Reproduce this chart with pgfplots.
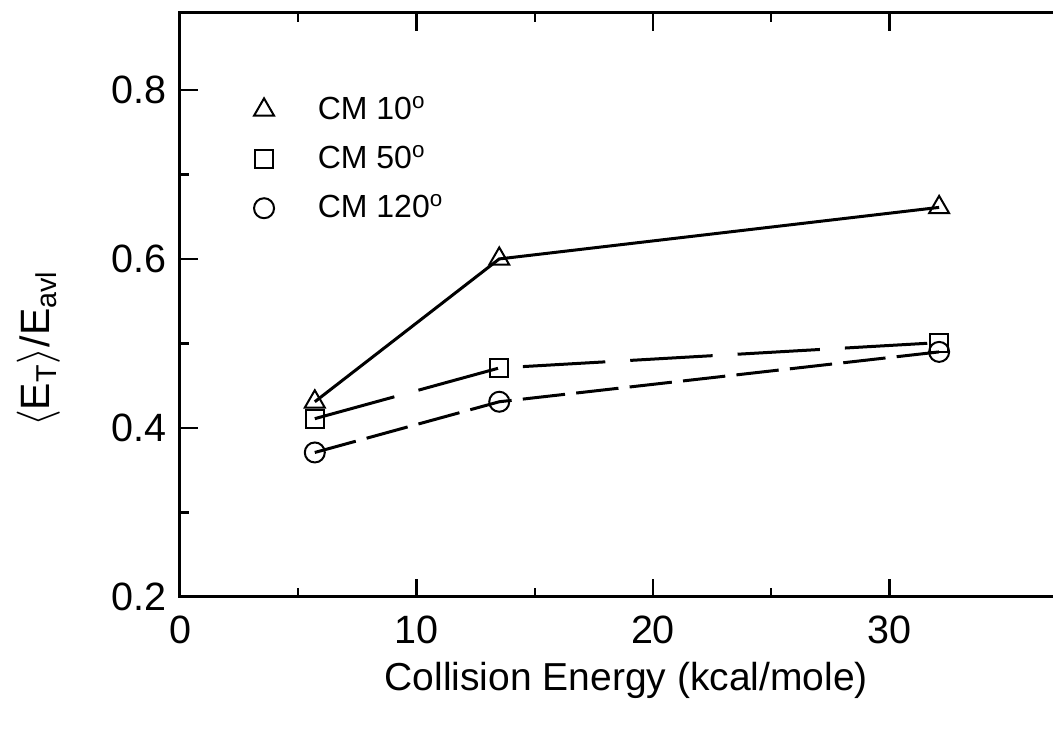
\documentclass[border=0pt]{standalone}
\usepackage{pgfplots}
\pgfplotsset{compat=1.18}
\usepackage{fontspec}
\setmainfont{Liberation Sans}

\begin{document}
\begin{tikzpicture}
\begin{axis}[
    scale only axis,
    width=357pt, height=233.6pt,
    xmin=0, xmax=37.74, ymin=0.2, ymax=0.891,
    xtick={0,10,20,30}, ytick={0.2,0.4,0.6,0.8},
    minor x tick num=1, minor y tick num=1,
    tick align=inside,
    major tick length=7.2pt, minor tick length=3.6pt,
    every tick/.style={black, line width=0.9pt},
    axis line style={line width=1.2pt},
    /pgf/number format/assume math mode=true,
    yticklabel style={/pgf/number format/fixed, /pgf/number format/precision=1,
        /pgf/number format/fixed zerofill, font=\fontsize{15.8}{18}\selectfont, xshift=-2pt},
    xticklabel style={font=\fontsize{15.8}{18}\selectfont, yshift=-4pt},
    xlabel={Collision Energy (kcal/mole)},
    ylabel={$\langle$E\textsubscript{T}$\rangle$/E\textsubscript{avl}},
    xlabel style={font=\fontsize{15.6}{18}\selectfont, at={(axis description cs:0.500,-0.142)}, anchor=center},
    ylabel style={font=\fontsize{16.4}{19}\selectfont, at={(axis description cs:-0.158,0.425)}, anchor=center},
    legend style={draw=none, fill=none, at={(axis description cs:0.074,0.875)}, anchor=north west,
        font=\fontsize{12.8}{15}\selectfont, row sep=5pt},
    legend cell align=left,
    legend image code/.code={\draw[only marks] plot coordinates {(0.3cm,0cm)};
        \path[draw=none] (0.3cm,0cm) -- ++(19.5pt,0pt);},
]
\addplot[black, line width=1.2pt, mark=triangle, mark size=4.6pt,
    mark options={solid, fill=white, line width=0.8pt}]
    coordinates {(5.7,0.431)(13.5,0.600)(32.1,0.661)};
\addlegendentry{CM 10\textsuperscript{o}}
\addplot[black, line width=1.2pt, dash pattern=on 33pt off 10pt, mark=square, mark size=3.6pt,
    mark options={solid, fill=white, line width=0.8pt}]
    coordinates {(5.7,0.411)(13.5,0.471)(32.1,0.501)};
\addlegendentry{CM 50\textsuperscript{o}}
\addplot[black, line width=1.2pt, dash pattern=on 17pt off 4.5pt, mark=o, mark size=4pt,
    mark options={solid, fill=white, line width=0.8pt}]
    coordinates {(5.7,0.371)(13.5,0.431)(32.1,0.490)};
\addlegendentry{CM 120\textsuperscript{o}}
\end{axis}
\pgfresetboundingbox
\useasboundingbox (-72pt,-52.8pt) rectangle (349.2pt,238.8pt);
\end{tikzpicture}
\end{document}
